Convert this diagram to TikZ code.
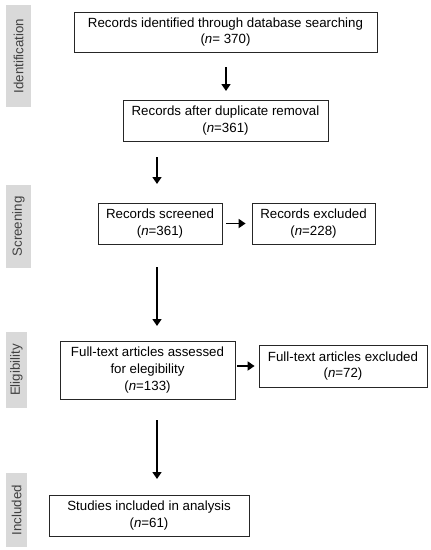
\documentclass[tikz,border=0pt]{standalone}
\usepackage{fontspec}
\setmainfont{Liberation Sans}
\usetikzlibrary{arrows.meta}
\begin{document}
\begin{tikzpicture}[x=1pt,y=-1pt,
  box/.style={draw=black!85,line width=0.8pt,fill=white,align=center,inner sep=0pt,font=\fontsize{13.3}{16.8}\selectfont},
  phase/.style={fill=black!15,text=black!75,inner sep=0pt,font=\fontsize{13.3}{15}\selectfont},
  arr/.style={line width=1.7pt,-{Triangle[length=7pt,width=9pt]}}]
\useasboundingbox (0,0) rectangle (431,550);
% phase labels
\node[phase,minimum width=102pt,minimum height=25pt,rotate=90] (pid) at (18.5,56) {Identification};
\node[phase,minimum width=83pt,minimum height=25pt,rotate=90] (psc) at (18.5,226.5) {Screening};
\node[phase,minimum width=76pt,minimum height=21pt,rotate=90] (pel) at (16.5,370) {Eligibility};
\node[phase,minimum width=74pt,minimum height=21pt,rotate=90] (pin) at (16.5,510) {Included};
% boxes
\node[box,minimum width=303pt,minimum height=40pt] (b1) at (225.5,32) {Records identified through database searching\\(\textit{n}= 370)};
\node[box,minimum width=205pt,minimum height=41pt] (b2) at (225.5,120.5) {Records after duplicate removal\\(\textit{n}=361)};
\node[box,minimum width=124pt,minimum height=41pt] (b3) at (160,223.5) {Records screened\\(\textit{n}=361)};
\node[box,minimum width=123pt,minimum height=41pt] (b4) at (313.5,223.5) {Records excluded\\(\textit{n}=228)};
\node[box,minimum width=175pt,minimum height=58pt] (b5) at (147.5,370) {Full-text articles assessed\\for elegibility\\(\textit{n}=133)};
\node[box,minimum width=168pt,minimum height=42pt] (b6) at (343,366) {Full-text articles excluded\\(\textit{n}=72)};
\node[box,minimum width=200pt,minimum height=41pt] (b7) at (149,515.5) {Studies included in analysis\\(\textit{n}=61)};
% arrows
\coordinate (a1s) at (226,67); \coordinate (a1e) at (226,91);
\coordinate (a2s) at (157,157); \coordinate (a2e) at (157,184);
\coordinate (a3s) at (157,267); \coordinate (a3e) at (157,326);
\coordinate (a4s) at (157,420); \coordinate (a4e) at (157,479);
\draw[arr] (a1s) -- (a1e);
\draw[arr] (a2s) -- (a2e);
\draw[arr] (a3s) -- (a3e);
\draw[arr] (a4s) -- (a4e);
\draw[arr] ([xshift=4pt]b3.east) -- ([xshift=-6pt]b4.west);
\draw[arr] ([xshift=2pt]b5.east |- b6.east) -- ([xshift=-4pt]b6.west);
\end{tikzpicture}
\end{document}
